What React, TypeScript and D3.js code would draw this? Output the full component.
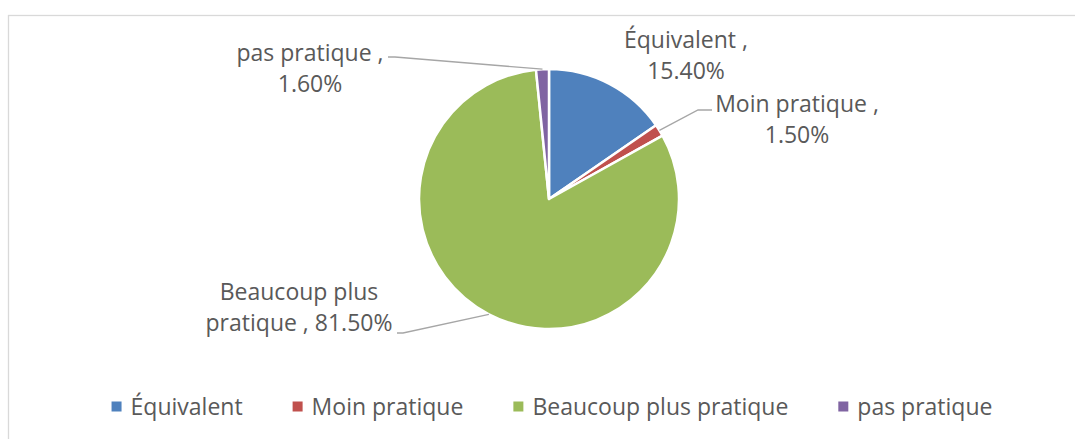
import { useEffect, useRef } from 'react'
import * as d3 from 'd3'

const categories = ['Équivalent', 'Moin pratique', 'Beaucoup plus pratique', 'pas pratique']
const shares = [15.4, 1.5, 81.5, 1.6]
const colors = ['#4F81BD', '#C0504D', '#9BBB59', '#8064A2']
// data label text, split on lines like Excel wraps them
const labelLines = [
  ['Équivalent ,', '15.40%'],
  ['Moin pratique ,', '1.50%'],
  ['Beaucoup plus', 'pratique , 81.50%'],
  ['pas pratique ,', '1.60%'],
]

// label placement relative to pie centre (centre of text block, first baseline)
const labelLayout = [
  { x: 137, y: -151, leader: null },
  { x: 248, y: -87, leader: { bend: [149, -89], end: [163, -89] } },
  { x: -250, y: 101, leader: { bend: [-146, 134], end: [-152, 134] } },
  { x: -239, y: -138, leader: { bend: [-154, -142], end: [-161, -142] } },
]

export default function App() {
  const ref = useRef<SVGSVGElement | null>(null)

  useEffect(() => {
    if (!ref.current) return
    const width = 1075
    const height = 439
    const cx = 549
    const cy = 199
    const r = 130
    const font = '"Open Sans", sans-serif'
    const fontSize = 23
    const textColor = '#595959'

    const svg = d3.select(ref.current)
    svg.selectAll('*').remove()

    svg.append('rect').attr('width', width).attr('height', height).attr('fill', '#fff')
    svg
      .append('rect')
      .attr('x', 8.5)
      .attr('y', 15.5)
      .attr('width', width + 20)
      .attr('height', height + 20)
      .attr('fill', 'none')
      .attr('stroke', '#d9d9d9')
      .attr('stroke-width', 1.3)

    const data = categories.map((c, i) => ({ name: c, value: shares[i], i }))
    const pie = d3.pie<any>().sort(null).value((d) => d.value)
    const arcs = pie(data)
    const arc = d3.arc<any>().innerRadius(0).outerRadius(r)

    const g = svg.append('g').attr('transform', `translate(${cx},${cy})`)
    g.selectAll('path.slice')
      .data(arcs)
      .join('path')
      .attr('class', 'slice')
      .attr('d', arc)
      .attr('fill', (d) => colors[d.data.i])
      .attr('stroke', '#fff')
      .attr('stroke-width', 2.5)
      .attr('stroke-linejoin', 'round')

    // leader lines from the slice edge at its mid angle
    arcs.forEach((a) => {
      const lay = labelLayout[a.data.i]
      if (!lay.leader) return
      const mid = (a.startAngle + a.endAngle) / 2
      const sx = Math.sin(mid) * r
      const sy = -Math.cos(mid) * r
      g.append('path')
        .attr('d', d3.line()([[sx, sy], lay.leader.bend as [number, number], lay.leader.end as [number, number]]))
        .attr('fill', 'none')
        .attr('stroke', '#a6a6a6')
        .attr('stroke-width', 1.3)
    })

    arcs.forEach((a) => {
      const lay = labelLayout[a.data.i]
      const t = g
        .append('text')
        .attr('text-anchor', 'middle')
        .style('font-family', font)
        .style('font-size', `${fontSize}px`)
        .style('fill', textColor)
      labelLines[a.data.i].forEach((line, k) => {
        t.append('tspan')
          .attr('x', lay.x)
          .attr('y', lay.y + k * 31)
          .text(line)
      })
    })

    // legend
    const legend = svg.append('g')
    const items = legend
      .selectAll('g')
      .data(data)
      .join('g')
    items
      .append('rect')
      .attr('width', 10)
      .attr('height', 10)
      .attr('y', -5)
      .attr('fill', (d) => colors[d.i])
    const texts = items
      .append('text')
      .attr('x', 19)
      .attr('y', 8)
      .style('font-family', font)
      .style('font-size', `${fontSize}px`)
      .style('fill', textColor)
      .text((d) => d.name)

    const gap = 50
    const widths: number[] = []
    texts.each(function () {
      widths.push((this as SVGTextElement).getComputedTextLength())
    })
    const itemW = widths.map((w) => 19 + w)
    const total = d3.sum(itemW) + gap * (itemW.length - 1)
    let x = 552 - total / 2
    const xs: number[] = []
    itemW.forEach((w) => {
      xs.push(x)
      x += w + gap
    })
    items.attr('transform', (_d, i) => `translate(${xs[i]},406.5)`)
  }, [])

  return (
    <svg
      ref={ref}
      width={1075}
      height={439}
      style={{ position: 'absolute', left: 0, top: 0, display: 'block' }}
    />
  )
}
